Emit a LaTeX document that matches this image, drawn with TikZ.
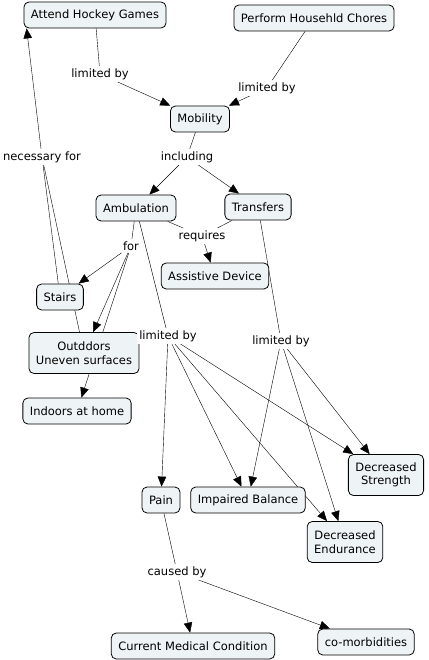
\documentclass[tikz,border=0pt]{standalone}
\usepackage{fontspec}
\setmainfont{DejaVu Sans}
\usepackage{tikz}
\usetikzlibrary{arrows.meta, backgrounds}

\definecolor{conceptfill}{RGB}{238,243,245}

\begin{document}
\begin{tikzpicture}[x=1pt, y=-1pt,
        font=\fontsize{11.5}{13.5}\selectfont,
        line width=0.8pt,
        concept/.style={draw, rounded corners=5pt, fill=conceptfill,
            inner xsep=7pt, inner ysep=4pt, minimum height=26pt, align=center},
        twoline/.style={concept, minimum height=41pt},
        link/.style={fill=white, inner sep=2pt},
        tip/.style={-{Triangle[length=10pt, width=8.5pt]}}]
    \useasboundingbox (0,0) rectangle (428,660);

    % 1. Fogalmak (concepts)
    \node[concept] (hockey)     at (95,15)   {Attend Hockey Games};
    \node[concept] (chores)     at (314,18)  {Perform Househld Chores};
    \node[concept] (mobility)   at (200,119) {Mobility};
    \node[concept] (ambulation) at (136,208) {Ambulation};
    \node[concept] (transfers)  at (258,207) {Transfers};
    \node[concept] (assistive)  at (215,276) {Assistive Device};
    \node[concept] (stairs)     at (60,297)  {Stairs};
    \node[twoline] (outdoors)   at (84,353)  {Outddors\\Uneven surfaces};
    \node[concept] (indoors)    at (77,411)  {Indoors at home};
    \node[twoline] (strength)   at (386,475) {Decreased\\Strength};
    \node[concept] (pain)       at (161,500) {Pain};
    \node[concept] (balance)    at (248,500) {Impaired Balance};
    \node[twoline] (endurance)  at (345,542) {Decreased\\Endurance};
    \node[concept] (condition)  at (193,646) {Current Medical Condition};
    \node[concept] (comorb)     at (366,642) {co-morbidities};

    % 2. Kapcsolo szavak (linking phrases)
    \node[link] (lim-1)     at (100,74)  {limited by};
    \node[link] (lim-2)     at (267,88)  {limited by};
    \node[link] (including) at (187,157) {including};
    \node[link] (necfor)    at (42,157)  {necessary for};
    \node[link] (requires)  at (202,236) {requires};
    \node[link] (for)       at (131,246) {for};
    \node[link] (lim-3)     at (168,336) {limited by};
    \node[link] (lim-4)     at (281,341) {limited by};
    \node[link] (causedby)  at (177,572) {caused by};

    % 3. Vonalak es nyilak (lines and arrows)
    \begin{scope}[on background layer]
        \foreach \a/\b in {hockey/lim-1, chores/lim-2, mobility/including,
                ambulation/requires, transfers/requires, ambulation/for,
                ambulation/lim-3, transfers/lim-4, stairs/necfor,
                outdoors/necfor, pain/causedby} {
            \draw (\a) -- (\b);
        }
        \foreach \a/\b in {lim-1/mobility, lim-2/mobility,
                including/ambulation, including/transfers, requires/assistive,
                for/stairs, for/outdoors, for/indoors,
                causedby/condition, causedby/comorb} {
            \draw[tip] (\a) -- (\b);
        }
        \foreach \a in {lim-3, lim-4} {
            \foreach \b in {balance, endurance, strength} {
                \draw[tip] (\a) -- (\b);
            }
        }
        \draw[tip] (lim-3) -- (pain);
        \draw[tip] (necfor) -- ([xshift=3pt]hockey.south west);
    \end{scope}
\end{tikzpicture}
\end{document}
